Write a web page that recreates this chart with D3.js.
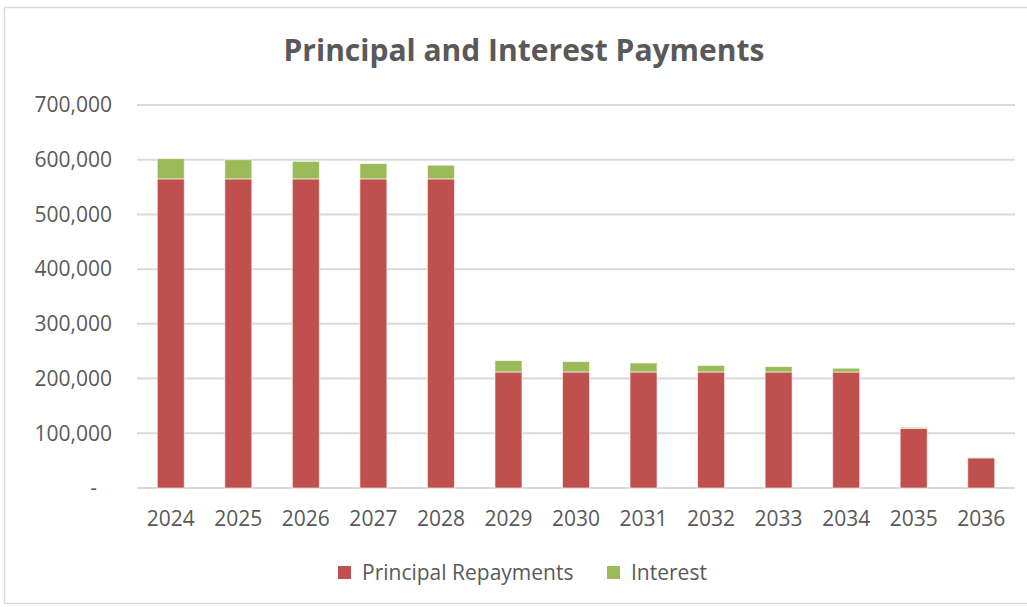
<!DOCTYPE html>
<html>
<head>
<meta charset="utf-8">
<script src="https://cdn.jsdelivr.net/npm/d3@7"></script>
<style>
  body { margin: 0; background: #fff; }
  text { font-family: "Open Sans", "Liberation Sans", sans-serif; fill: #595959; }
</style>
</head>
<body>
<div id="chart"></div>
<script>
const years = ["2024","2025","2026","2027","2028","2029","2030","2031","2032","2033","2034","2035","2036"];
const principal = [565000,565000,565000,565000,565000,212000,212000,212000,212000,212000,212000,109000,55000];
const interest = [37000,35000,32000,28000,25000,21000,19000,16500,12000,10000,7000,2000,1000];
const yTicks = [0,100000,200000,300000,400000,500000,600000,700000];
const seriesNames = ["Principal Repayments","Interest"];
const colors = ["#C0504D","#9BBB59"];

const W = 1027, H = 607;
const m = {left: 137, right: 12, top: 105, bottom: 119};

const svg = d3.select("#chart").append("svg")
  .attr("width", W).attr("height", H);

// chart border
svg.append("rect")
  .attr("x", 4.5).attr("y", 7.5)
  .attr("width", W + 10).attr("height", H - 11)
  .attr("fill", "none").attr("stroke", "#d9d9d9").attr("stroke-width", 1.5);

svg.append("text")
  .attr("x", 524).attr("y", 61)
  .attr("text-anchor", "middle")
  .attr("font-size", 30).attr("font-weight", "bold")
  .text("Principal and Interest Payments");

const x = d3.scaleBand()
  .domain(years)
  .range([m.left, W - m.right])
  .paddingInner(0.6).paddingOuter(0.3);

const y = d3.scaleLinear()
  .domain([0, 700000])
  .range([H - m.bottom, m.top]);

// grid
svg.append("g")
  .selectAll("line").data(yTicks).join("line")
  .attr("x1", m.left).attr("x2", W - m.right)
  .attr("y1", d => y(d)).attr("y2", d => y(d))
  .attr("stroke", "#d9d9d9").attr("stroke-width", 2);

// y axis labels
const yAxis = d3.axisLeft(y).tickValues(yTicks).tickSize(0).tickPadding(25)
  .tickFormat(d => d === 0 ? "-" : d3.format(",")(d));
const ya = svg.append("g").attr("transform", `translate(${m.left},0)`).call(yAxis);
ya.select(".domain").remove();
ya.selectAll("text").attr("font-size", 21).attr("fill", "#595959")
  .style("font-family", "'Open Sans', sans-serif");
ya.selectAll("text").filter(d => d === 0).attr("dx", -15);

// x axis labels
const xAxis = d3.axisBottom(x).tickSize(0).tickPadding(23);
const xa = svg.append("g").attr("transform", `translate(0,${H - m.bottom})`).call(xAxis);
xa.select(".domain").remove();
xa.selectAll("text").attr("font-size", 21).attr("fill", "#595959")
  .style("font-family", "'Open Sans', sans-serif");

// stacked bars
const rows = years.map((yr, i) => ({year: yr, p: principal[i], i: interest[i]}));
const stack = d3.stack().keys(["p", "i"])(rows);

svg.append("g").selectAll("g").data(stack).join("g")
  .attr("fill", (d, k) => colors[k])
  .selectAll("rect").data(d => d).join("rect")
  .attr("x", d => x(d.data.year))
  .attr("width", x.bandwidth())
  .attr("y", d => y(d[1]))
  .attr("height", d => y(d[0]) - y(d[1]))
  .attr("stroke", "#fff").attr("stroke-opacity", 0.6).attr("stroke-width", 1);

// legend
const legendX = [338, 607];
const lg = svg.append("g");
seriesNames.forEach((name, k) => {
  lg.append("rect")
    .attr("x", legendX[k]).attr("y", 566)
    .attr("width", 13).attr("height", 13)
    .attr("fill", colors[k]);
  lg.append("text")
    .attr("x", legendX[k] + 24).attr("y", 580)
    .attr("font-size", 21)
    .text(name);
});
</script>
</body>
</html>
